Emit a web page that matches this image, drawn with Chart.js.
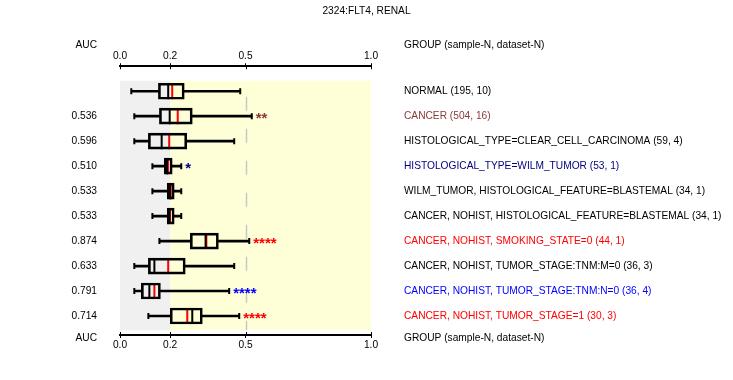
<!DOCTYPE html>
<html><head><meta charset="utf-8">
<script src="https://cdn.jsdelivr.net/npm/chart.js@4.4.0/dist/chart.umd.min.js"></script>
<style>html,body{margin:0;padding:0;background:#fff;} #wrap{width:733px;height:380px;position:relative;}</style>
</head><body><div id="wrap"><canvas id="c"></canvas></div>
<script>
const title = '2324:FLT4, RENAL';
const groups = [
  'NORMAL (195, 10)',
  'CANCER (504, 16)',
  'HISTOLOGICAL_TYPE=CLEAR_CELL_CARCINOMA (59, 4)',
  'HISTOLOGICAL_TYPE=WILM_TUMOR (53, 1)',
  'WILM_TUMOR, HISTOLOGICAL_FEATURE=BLASTEMAL (34, 1)',
  'CANCER, NOHIST, HISTOLOGICAL_FEATURE=BLASTEMAL (34, 1)',
  'CANCER, NOHIST, SMOKING_STATE=0 (44, 1)',
  'CANCER, NOHIST, TUMOR_STAGE:TNM:M=0 (36, 3)',
  'CANCER, NOHIST, TUMOR_STAGE:TNM:N=0 (36, 4)',
  'CANCER, NOHIST, TUMOR_STAGE=1 (30, 3)'
];
const groupColors = ['#000000','#8b3a3a','#000000','#000080','#000000','#000000','#ff0000','#000000','#0000ff','#ff0000'];
const aucLabels = ['', '0.536', '0.596', '0.510', '0.533', '0.533', '0.874', '0.633', '0.791', '0.714'];
const whiskerLow  = [0.045, 0.057, 0.057, 0.129, 0.129, 0.129, 0.157, 0.057, 0.057, 0.113];
const q1          = [0.153, 0.157, 0.113, 0.176, 0.188, 0.188, 0.280, 0.113, 0.085, 0.200];
const median      = [0.192, 0.198, 0.166, 0.187, 0.199, 0.197, 0.341, 0.137, 0.117, 0.288];
const mean        = [0.208, 0.230, 0.196, 0.191, 0.202, 0.199, 0.344, 0.192, 0.137, 0.268];
const q3          = [0.256, 0.288, 0.266, 0.208, 0.216, 0.216, 0.392, 0.260, 0.161, 0.328];
const whiskerHigh = [0.479, 0.525, 0.455, 0.244, 0.244, 0.244, 0.515, 0.455, 0.435, 0.475];
const stars      = ['', '**', '', '*', '', '', '****', '', '****', '****'];
const starColors = ['#000000','#8b3a3a','#000000','#000080','#000000','#000000','#ff0000','#000000','#0000ff','#ff0000'];
const xTicks = [0.0, 0.2, 0.5, 1.0];
const axisHeader = 'AUC';
const groupHeader = 'GROUP (sample-N, dataset-N)';

const FONT = 'Liberation Sans, Arial, sans-serif';
const rows = groups.map((_, i) => i);

const decor = {
  id: 'decor',
  beforeDatasetsDraw(chart) {
    const {ctx, chartArea, scales: {x, y}} = chart;
    const top = y.getPixelForValue(-0.42), bot = y.getPixelForValue(9.57);
    ctx.save();
    ctx.fillStyle = '#f0f0f0';
    ctx.fillRect(x.getPixelForValue(0), top, x.getPixelForValue(0.2) - x.getPixelForValue(0), bot - top);
    ctx.fillStyle = '#ffffd7';
    ctx.fillRect(x.getPixelForValue(0.2), top, x.getPixelForValue(1) - x.getPixelForValue(0.2), bot - top);
    const xm = Math.round(x.getPixelForValue(0.5)) + 0.5;
    ctx.strokeStyle = '#c8c8c8';
    ctx.lineWidth = 1.5;
    ctx.setLineDash([14, 18]);
    ctx.lineDashOffset = -16;
    ctx.beginPath(); ctx.moveTo(xm, top); ctx.lineTo(xm, bot); ctx.stroke();
    ctx.restore();
  },
  afterDraw(chart) {
    const {ctx, chartArea, scales: {x}} = chart;
    ctx.save();
    ctx.strokeStyle = '#000';
    ctx.lineWidth = 1;
    xTicks.forEach(v => {
      const px = Math.round(x.getPixelForValue(v)) + 0.5;
      ctx.beginPath();
      ctx.moveTo(px, chartArea.top); ctx.lineTo(px, chartArea.top + 3);
      ctx.moveTo(px, chartArea.bottom); ctx.lineTo(px, chartArea.bottom - 3);
      ctx.stroke();
    });
    ctx.restore();
  },
  afterDatasetsDraw(chart) {
    const {ctx, chartArea, scales: {x, y}} = chart;
    ctx.save();
    ctx.font = 'bold 15px ' + FONT;
    ctx.textAlign = 'left';
    ctx.textBaseline = 'alphabetic';
    stars.forEach((s, i) => {
      if (!s) return;
      ctx.fillStyle = starColors[i];
      ctx.fillText(s, x.getPixelForValue(whiskerHigh[i]) + 4, y.getPixelForValue(i) + 6.5);
    });
    ctx.font = '10.2px ' + FONT;
    ctx.fillStyle = '#000';
    ctx.textBaseline = 'middle';
    const ly = chartArea.left - 23, gx = chartArea.right + 33;
    const ty = chartArea.top - 21, by = chartArea.bottom + 3;
    ctx.textAlign = 'right';
    ctx.fillText(axisHeader, ly, ty);
    ctx.fillText(axisHeader, ly, by);
    ctx.textAlign = 'left';
    ctx.fillText(groupHeader, gx, ty);
    ctx.fillText(groupHeader, gx, by);
    ctx.restore();
  }
};

const xAxisCommon = {
  type: 'linear', min: 0, max: 1, offset: false,
  afterBuildTicks: s => { s.ticks = xTicks.map(v => ({value: v})); },
  ticks: { callback: v => v.toFixed(1), color: '#000', font: {family: FONT, size: 10.2}, padding: 1, autoSkip: false, maxRotation: 0 },
  grid: { display: true, offset: false, drawOnChartArea: false, drawTicks: true, tickLength: 3, color: '#000', lineWidth: 1 },
  border: { display: true, color: '#000', width: 2 }
};
const yAxisCommon = {
  type: 'linear', min: -1, max: 9.76, reverse: true, offset: false,
  afterBuildTicks: s => { s.ticks = rows.map(v => ({value: v})); },
  grid: { display: false, offset: false, drawTicks: false },
  border: { display: false }
};

new Chart(document.getElementById('c'), {
  type: 'bar',
  data: {
    datasets: [
      { label: 'whisker low', indexAxis: 'y', grouped: false, xAxisID: 'x', yAxisID: 'y',
        data: rows.map(i => ({x: [whiskerLow[i], q1[i]], y: i})),
        backgroundColor: '#000', borderWidth: 0, barThickness: 2 },
      { label: 'whisker high', indexAxis: 'y', grouped: false, xAxisID: 'x', yAxisID: 'y',
        data: rows.map(i => ({x: [q3[i], whiskerHigh[i]], y: i})),
        backgroundColor: '#000', borderWidth: 0, barThickness: 2 },
      { label: 'box', indexAxis: 'y', grouped: false, xAxisID: 'x', yAxisID: 'y',
        data: rows.map(i => ({x: [q1[i], q3[i]], y: i})),
        backgroundColor: 'rgba(0,0,0,0)', borderColor: '#000', borderWidth: 2, borderSkipped: false, barThickness: 16 },
      { type: 'scatter', label: 'caps', xAxisID: 'x', yAxisID: 'y',
        data: rows.flatMap(i => [{x: whiskerLow[i], y: i}, {x: whiskerHigh[i], y: i}]),
        pointStyle: 'line', rotation: 90, radius: 3, borderColor: '#000', borderWidth: 2 },
      { type: 'scatter', label: 'median', xAxisID: 'x', yAxisID: 'y',
        data: rows.map(i => ({x: median[i], y: i})),
        pointStyle: 'line', rotation: 90, radius: 8, borderColor: '#000', borderWidth: 2 },
      { type: 'scatter', label: 'mean', xAxisID: 'x', yAxisID: 'y',
        data: rows.map(i => ({x: mean[i], y: i})),
        pointStyle: 'line', rotation: 90, radius: 8, borderColor: '#ff0000', borderWidth: 2 }
    ]
  },
  options: {
    responsive: true, maintainAspectRatio: false, animation: false,
    layout: { padding: 0 },
    plugins: {
      legend: { display: false }, tooltip: { enabled: false },
      title: { display: true, text: title, color: '#000', font: {family: FONT, size: 10.2, weight: 'normal'}, padding: {top: 5, bottom: 4} }
    },
    scales: {
      x: Object.assign({}, xAxisCommon, { position: 'top', afterFit: s => { s.height = 66 - 21; } }),
      x2: Object.assign({}, xAxisCommon, { position: 'bottom', afterFit: s => { s.height = 45; } }),
      y: Object.assign({}, yAxisCommon, { position: 'left',
        afterFit: s => { s.width = 120; },
        ticks: { callback: v => aucLabels[v], color: '#000', font: {family: FONT, size: 10.2}, padding: 23, autoSkip: false } }),
      y2: Object.assign({}, yAxisCommon, { position: 'right',
        afterFit: s => { s.width = 733 - 371; },
        ticks: { callback: v => groups[v], color: c => groupColors[c.tick ? c.tick.value : 0], font: {family: FONT, size: 10.2}, padding: 33, autoSkip: false } })
    }
  },
  plugins: [decor]
});
</script></body></html>
